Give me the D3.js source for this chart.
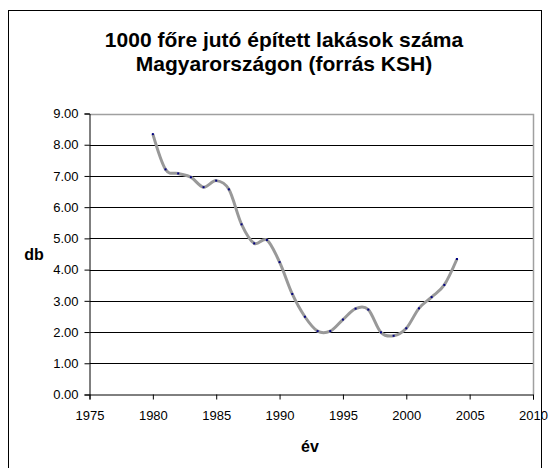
<!DOCTYPE html>
<html><head><meta charset="utf-8">
<script src="https://cdn.jsdelivr.net/npm/d3@7"></script>
<style>body{margin:0;background:#fff}svg{display:block}text{font-family:"Liberation Sans",Arial,sans-serif}</style>
</head><body>
<svg id="c" width="549" height="468"></svg>
<script>
const years = [1980,1981,1982,1983,1984,1985,1986,1987,1988,1989,1990,1991,1992,1993,1994,1995,1996,1997,1998,1999,2000,2001,2002,2003,2004];
const values = [8.34,7.21,7.08,6.96,6.64,6.85,6.57,5.45,4.84,4.95,4.24,3.22,2.49,2.03,2.03,2.40,2.75,2.72,1.99,1.88,2.12,2.76,3.12,3.51,4.34];
const xTicks = [1975,1980,1985,1990,1995,2000,2005,2010];
const yTicks = [0,1,2,3,4,5,6,7,8,9];
const titleLines = ["1000 főre jutó épített lakások száma","Magyarországon (forrás KSH)"];
const xTitle = "év", yTitle = "db";

const svg = d3.select("#c");
svg.append("rect").attr("x",8.5).attr("y",10.5).attr("width",533).attr("height",480)
  .attr("fill","#fff").attr("stroke","#000").attr("stroke-width",1);

const L=89.5, R=533, T=113.5, B=394.5;
const x = d3.scaleLinear().domain([1975,2010]).range([L,R]);
const y = d3.scaleLinear().domain([0,9]).range([B,T]);

// title
svg.append("text").attr("x",284).attr("y",47).attr("text-anchor","middle")
  .attr("font-size",21).attr("font-weight","bold").selectAll("tspan").data(titleLines).join("tspan")
  .attr("x",284).attr("dy",(d,i)=>i?24:0).text(d=>d);

// gridlines
svg.append("g").selectAll("line").data(yTicks.filter(v=>v>0 && v<9)).join("line")
  .attr("x1",L).attr("x2",R).attr("y1",d=>Math.round(y(d))+0.5).attr("y2",d=>Math.round(y(d))+0.5)
  .attr("stroke","#000").attr("stroke-width",1);
// plot border top/right gray
svg.append("path").attr("d",`M${L},${Math.round(T)+0.5}H${Math.round(R)+0.5}V${B}`)
  .attr("fill","none").attr("stroke","#a0a0a0").attr("stroke-width",1.5);

// axes
const yAxis = svg.append("g").attr("transform",`translate(${L},0)`)
  .call(d3.axisLeft(y).tickValues(yTicks).tickFormat(d3.format(".2f")).tickSize(5).tickPadding(6));
const xAxis = svg.append("g").attr("transform",`translate(0,${B})`)
  .call(d3.axisBottom(x).tickValues(xTicks).tickFormat(d3.format("d")).tickSize(5).tickPadding(11));
[yAxis,xAxis].forEach(a=>{
  a.selectAll("text").attr("font-size",13).attr("fill","#000").attr("font-family","Liberation Sans, Arial, sans-serif");
  a.selectAll("line,path").attr("stroke","#000");
});

// series
const pts = years.map((yr,i)=>[yr,values[i]]);
svg.append("path").datum(pts)
  .attr("d", d3.line().x(d=>x(d[0])).y(d=>y(d[1])).curve(d3.curveCardinal.tension(0)))
  .attr("fill","none").attr("stroke","#999999").attr("stroke-width",3).attr("stroke-linejoin","round");
svg.append("g").selectAll("rect").data(pts).join("rect")
  .attr("x",d=>x(d[0])-1).attr("y",d=>y(d[1])-1).attr("width",2).attr("height",2).attr("fill","#000080");

// axis titles
svg.append("text").attr("x",310).attr("y",452).attr("text-anchor","middle")
  .attr("font-size",16).attr("font-weight","bold").text(xTitle);
svg.append("text").attr("x",34).attr("y",260).attr("text-anchor","middle")
  .attr("font-size",16).attr("font-weight","bold").text(yTitle);
</script>
</body></html>
